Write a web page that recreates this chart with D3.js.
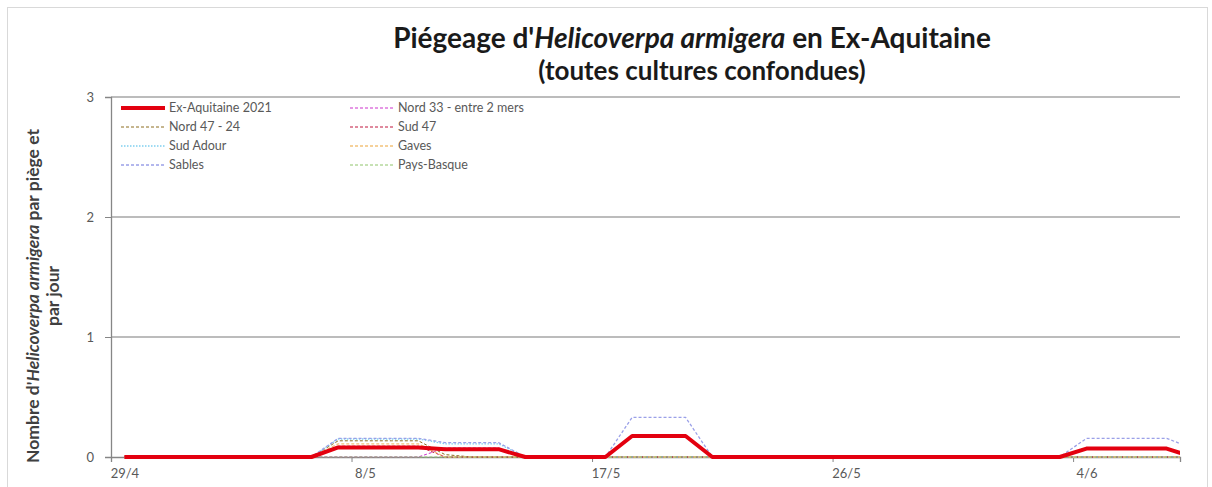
<!DOCTYPE html>
<html>
<head>
<meta charset="utf-8">
<script src="https://cdn.jsdelivr.net/npm/d3@7"></script>
<style>
  body { margin: 0; background: #fff; }
  svg text { font-family: Lato, "Open Sans", sans-serif; }
</style>
</head>
<body>
<div id="chart"></div>
<script>

// one value per day, 29/4 -> 8/6 2021
var startDay = "2021-04-29", endDay = "2021-06-09";
var tickDays = ["2021-04-29", "2021-05-08", "2021-05-17", "2021-05-26", "2021-06-04"];
var yTicks = [0, 1, 2, 3];

var exAquitaine = [0,0,0,0,0,0,0,0, 0.08,0.08,0.08,0.08, 0.065,0.065,0.065, 0,0,0,0, 0.175,0.175,0.175, 0,0,0,0,0,0,0,0,0,0,0,0,0,0, 0.07,0.07,0.07,0.07, 0];
var nord33    = [0,0,0,0,0,0,0,0, 0,0,0,0, 0.075,0.075,0.075, 0,0,0,0, 0,0,0, 0,0,0,0,0,0,0,0,0,0,0,0,0,0, 0,0,0,0, 0];
var nord4724  = [0,0,0,0,0,0,0,0, 0.135,0.135,0.135,0.135, 0.02,0,0, 0,0,0,0, 0,0,0, 0,0,0,0,0,0,0,0,0,0,0,0,0,0, 0,0,0,0, 0];
var sud47     = [0,0,0,0,0,0,0,0, 0.09,0.09,0.09,0.09, 0,0,0, 0,0,0,0, 0,0,0, 0,0,0,0,0,0,0,0,0,0,0,0,0,0, 0,0,0,0, 0];
var sudAdour  = [0,0,0,0,0,0,0,0, 0.15,0.15,0.15,0.15, 0.11,0.11,0.11, 0,0,0,0, 0,0,0, 0,0,0,0,0,0,0,0,0,0,0,0,0,0, 0,0,0,0, 0];
var gaves     = [0,0,0,0,0,0,0,0, 0.11,0.11,0.11,0.11, 0,0,0, 0,0,0,0, 0,0,0, 0,0,0,0,0,0,0,0,0,0,0,0,0,0, 0,0,0,0, 0];
var sables    = [0,0,0,0,0,0,0,0, 0.155,0.155,0.155,0.155, 0.12,0.12,0.12, 0,0,0,0, 0.33,0.33,0.33, 0,0,0,0,0,0,0,0,0,0,0,0,0,0, 0.155,0.155,0.155,0.155, 0.07];
var paysBasque= [0,0,0,0,0,0,0,0, 0,0,0,0, 0,0,0, 0,0,0,0, 0,0,0, 0,0,0,0,0,0,0,0,0,0,0,0,0,0, 0,0,0,0, 0];

var seriesNames = ["Ex-Aquitaine 2021", "Nord 33 - entre 2 mers", "Nord 47 - 24", "Sud 47",
                   "Sud Adour", "Gaves", "Sables", "Pays-Basque"];
var seriesValues = [exAquitaine, nord33, nord4724, sud47, sudAdour, gaves, sables, paysBasque];
var seriesColors = ["#e3000f", "#cc33cc", "#8c6d1f", "#c0143c", "#7fd0f0", "#f3c27a", "#9aa0e8", "#8fc46a"];
var seriesDash   = [null, "3,2", "3,2", "3,2", "1.5,1.5", "3,2", "3,2", "3,2"];
var seriesWidth  = [4, 1, 1, 1, 1.3, 1.3, 1.3, 1];

var W = 1212, H = 487;
var margin = {top: 97, right: 32, bottom: 30, left: 111},
    width = 1180 - margin.left,
    height = 457 - margin.top;

var parse = d3.utcParse("%Y-%m-%d");
var days = d3.utcDay.range(parse(startDay), parse(endDay));

var svg = d3.select("#chart").append("svg")
    .attr("width", W)
    .attr("height", H);

svg.append("rect")
    .attr("x", 7.5).attr("y", 7.5)
    .attr("width", W - 12).attr("height", H)
    .attr("fill", "none")
    .attr("stroke", "#d9d9d9");

var g = svg.append("g")
    .attr("transform", "translate(" + margin.left + "," + margin.top + ")");

var x = d3.scaleUtc()
    .domain([parse(startDay), d3.utcDay.offset(parse(startDay), 40)])
    .range([0, width]);
var halfDay = (x(d3.utcDay.offset(parse(startDay), 1)) - x(parse(startDay))) / 2;

var y = d3.scaleLinear()
    .domain([0, 3])
    .range([height, 0]);

// gridlines
g.append("g")
  .selectAll("line")
  .data(yTicks.filter(function(d) { return d > 0; }))
  .enter().append("line")
    .attr("x1", 0).attr("x2", width)
    .attr("y1", function(d) { return y(d); })
    .attr("y2", function(d) { return y(d); })
    .attr("stroke", "#a6a6a6")
    .attr("stroke-width", 1.6);

// y axis
var yAxis = g.append("g")
    .call(d3.axisLeft(y).tickValues(yTicks).tickFormat(d3.format("d")).tickSize(6).tickPadding(11));
yAxis.select(".domain").attr("stroke", "#868686").attr("stroke-width", 1.3);
yAxis.selectAll(".tick line").attr("stroke", "#868686");
yAxis.selectAll("text").attr("fill", "#595959").style("font-size", "13px");

// x axis
var xAxis = g.append("g")
    .attr("transform", "translate(0," + height + ")")
    .call(d3.axisBottom(x).tickValues(tickDays.map(parse)).tickFormat(d3.utcFormat("%-d/%-m")).tickSize(5).tickPadding(7));
xAxis.select(".domain").attr("stroke", "#868686").attr("stroke-width", 1.3);
xAxis.selectAll(".tick line").attr("stroke", "#868686");
xAxis.selectAll("text")
    .attr("fill", "#595959")
    .attr("x", halfDay)
    .style("font-size", "13px");

// clip to plot area
svg.append("defs").append("clipPath").attr("id", "plot")
  .append("rect").attr("x", -2).attr("y", -10).attr("width", width + 2).attr("height", height + 20);

var line = d3.line()
    .x(function(d, i) { return x(days[i]) + halfDay; })
    .y(function(d) { return y(d); });

var order = [1, 2, 3, 4, 5, 6, 7, 0];
g.append("g").attr("clip-path", "url(#plot)")
  .selectAll("path")
  .data(order)
  .enter().append("path")
    .attr("fill", "none")
    .attr("stroke", function(k) { return seriesColors[k]; })
    .attr("stroke-width", function(k) { return seriesWidth[k]; })
    .attr("stroke-dasharray", function(k) { return seriesDash[k]; })
    .attr("stroke-linejoin", "round")
    .attr("d", function(k) { return line(seriesValues[k]); });

// legend
var legend = g.append("g").attr("transform", "translate(2,2)");
legend.append("rect")
    .attr("width", 450).attr("height", 78)
    .attr("fill", "#fff");
var item = legend.selectAll("g.item")
  .data(seriesNames)
  .enter().append("g")
    .attr("class", "item")
    .attr("transform", function(d, i) {
      return "translate(" + (i % 2 === 0 ? 8 : 237) + "," + (9 + Math.floor(i / 2) * 19) + ")";
    });
item.append("line")
    .attr("x1", 0).attr("x2", 44)
    .attr("stroke", function(d, i) { return seriesColors[i]; })
    .attr("stroke-width", function(d, i) { return seriesWidth[i]; })
    .attr("stroke-dasharray", function(d, i) { return seriesDash[i]; });
item.append("text")
    .attr("x", 48).attr("dy", "0.35em")
    .attr("fill", "#595959")
    .style("font-size", "12.5px")
    .text(function(d) { return d; });

// title
var title = svg.append("text")
    .attr("x", 692).attr("y", 48)
    .attr("text-anchor", "middle")
    .attr("fill", "#1a1a1a")
    .style("font-size", "28px")
    .style("font-weight", "bold");
title.append("tspan").text("Piégeage d'");
title.append("tspan").style("font-style", "italic").text("Helicoverpa armigera");
title.append("tspan").text(" en Ex-Aquitaine");
svg.append("text")
    .attr("x", 702).attr("y", 80)
    .attr("text-anchor", "middle")
    .attr("fill", "#1a1a1a")
    .style("font-size", "26px")
    .style("font-weight", "bold")
    .text("(toutes cultures confondues)");

// y axis title
var yt = svg.append("g").attr("transform", "translate(44,296) rotate(-90)");
var yl1 = yt.append("text")
    .attr("text-anchor", "middle")
    .attr("y", -5)
    .attr("fill", "#404040")
    .style("font-size", "17.5px")
    .style("font-weight", "bold");
yl1.append("tspan").text("Nombre d'");
yl1.append("tspan").style("font-style", "italic").text("Helicoverpa armigera");
yl1.append("tspan").text(" par piège et");
yt.append("text")
    .attr("text-anchor", "middle")
    .attr("y", 15)
    .attr("fill", "#404040")
    .style("font-size", "17.5px")
    .style("font-weight", "bold")
    .text("par jour");

</script>
</body>
</html>
